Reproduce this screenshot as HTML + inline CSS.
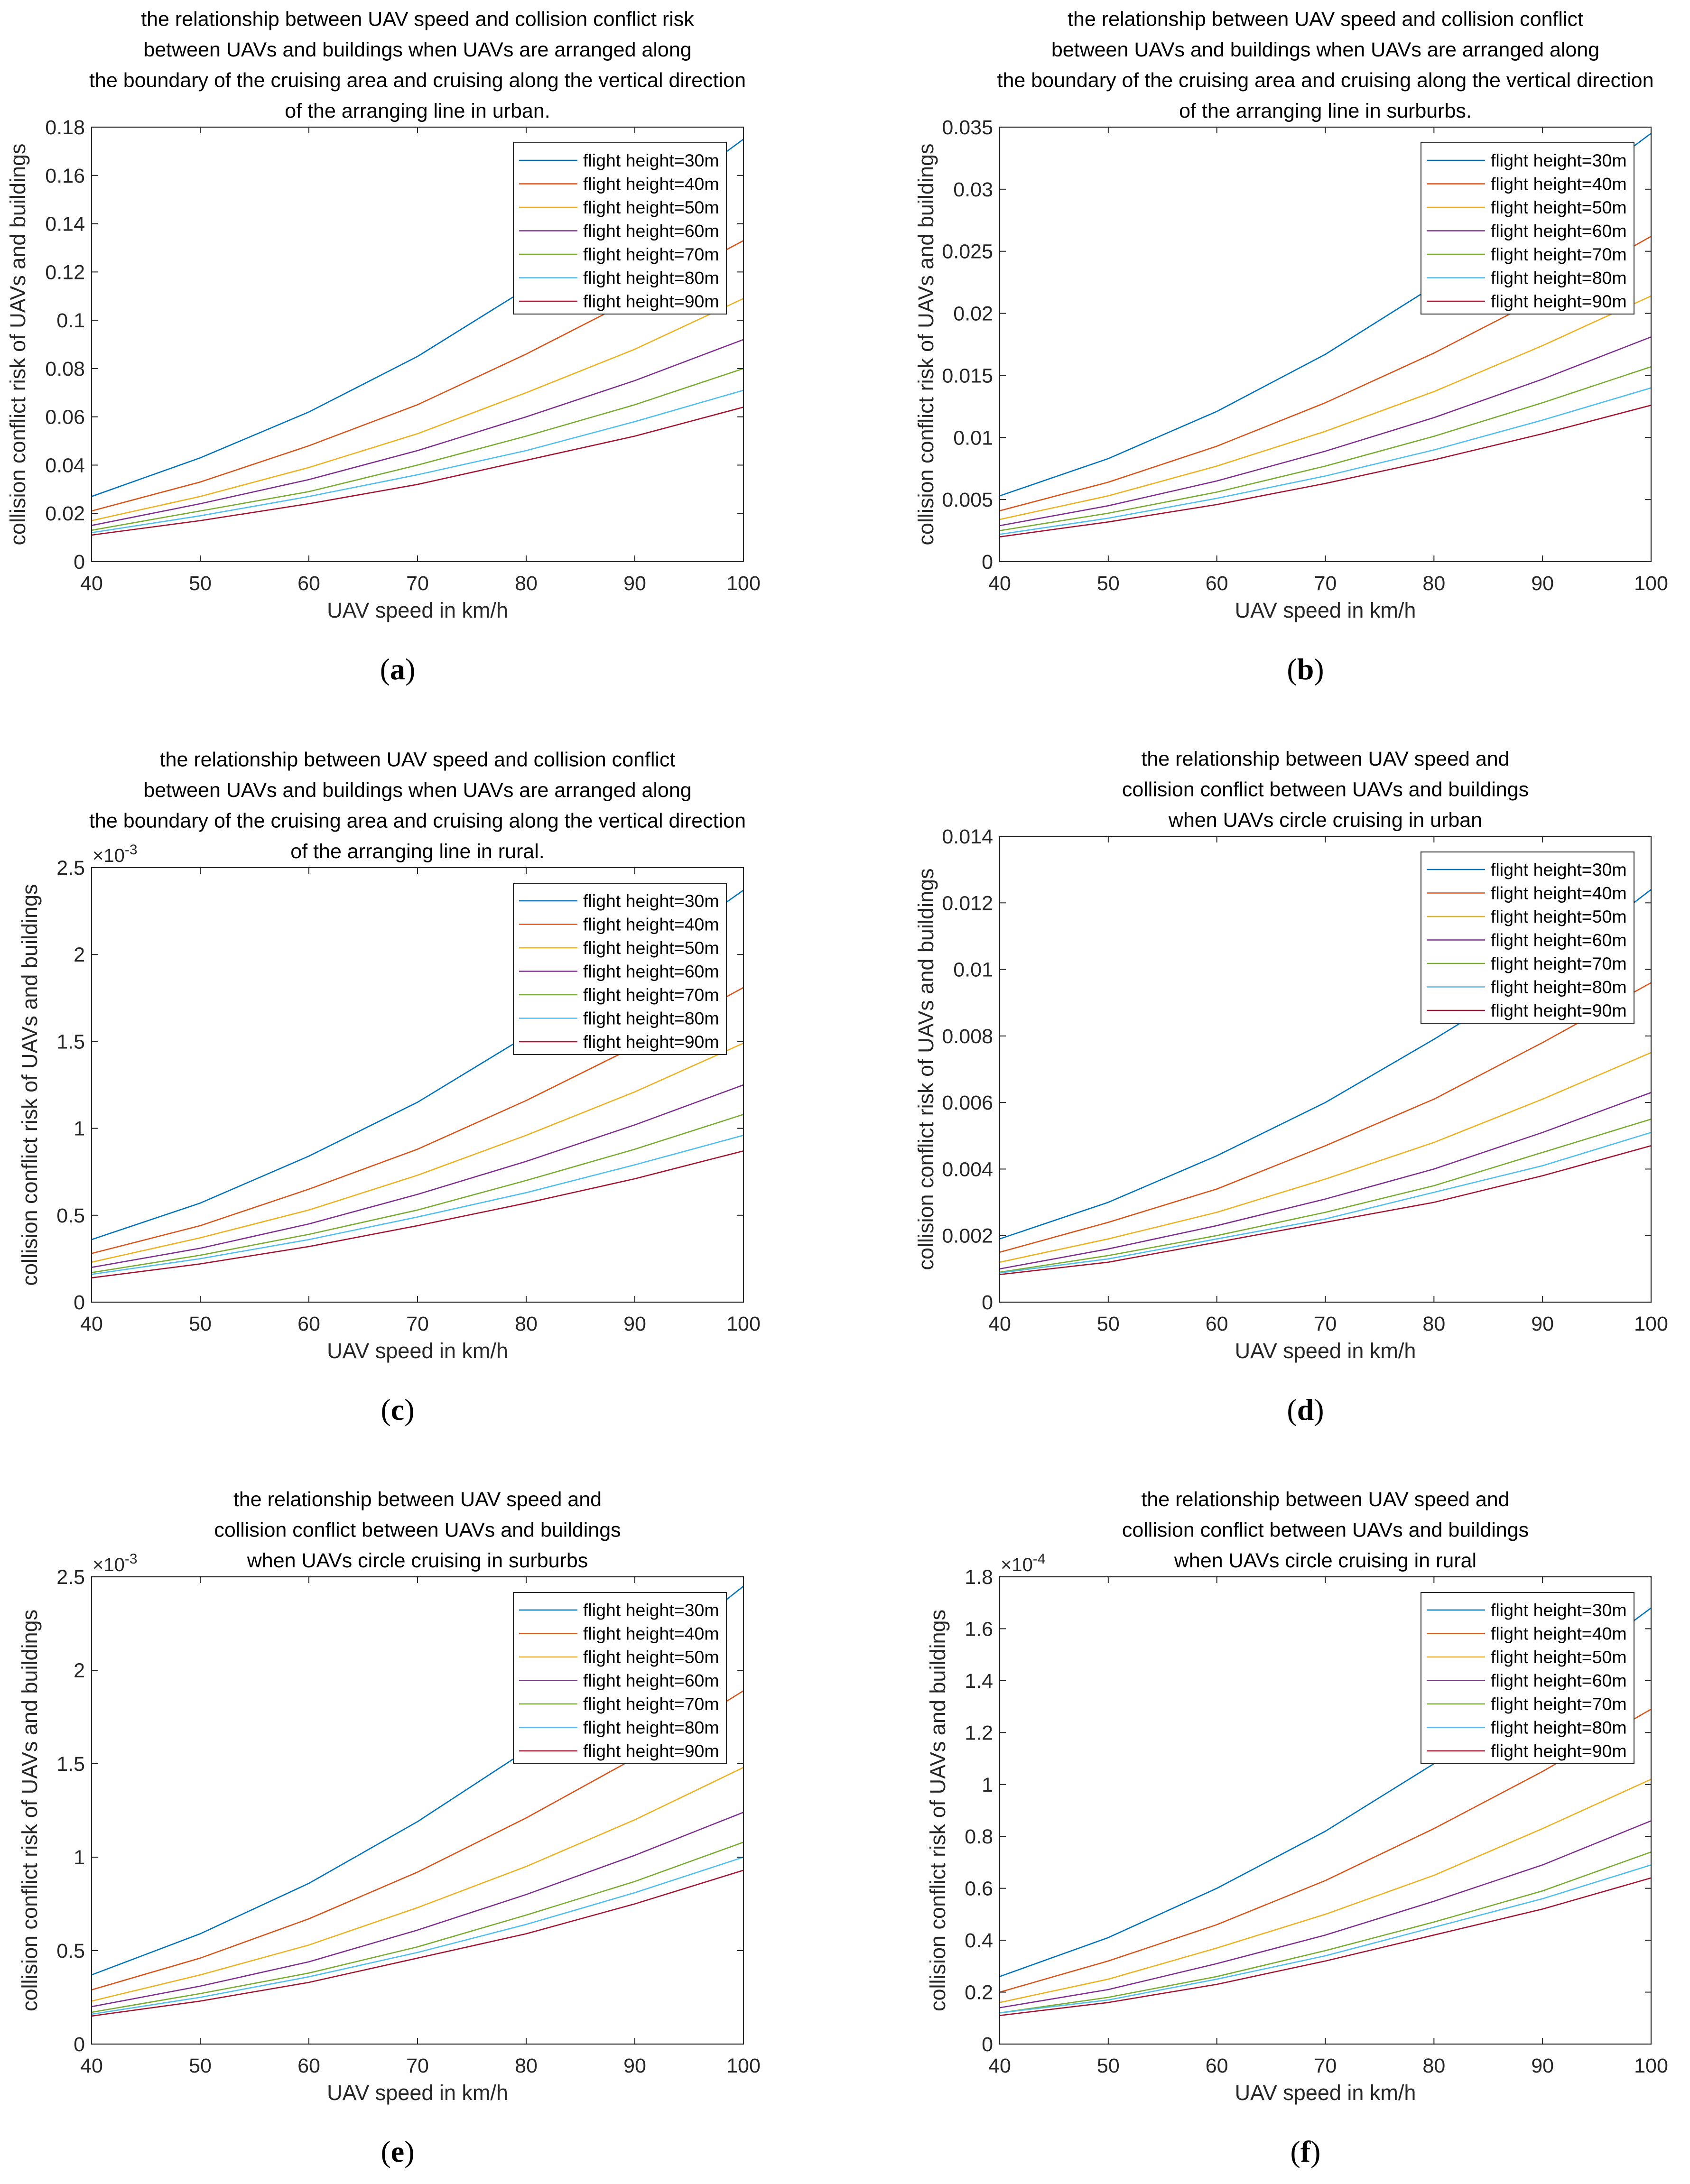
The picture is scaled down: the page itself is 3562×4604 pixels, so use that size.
<!DOCTYPE html>
<html><head><meta charset="utf-8">
<style>
html,body{margin:0;padding:0;background:#fff;}
svg{display:block;font-family:"Liberation Sans",Arial,sans-serif;}
</style></head>
<body>
<svg id="fig" width="3562" height="4604" viewBox="0 0 3562 4604" xmlns="http://www.w3.org/2000/svg"></svg>
<script>
// ---- data ----
const speeds = [40,50,60,70,80,90,100];
const heightLabels = ["flight height=30m","flight height=40m","flight height=50m","flight height=60m","flight height=70m","flight height=80m","flight height=90m"];
const seriesColors = ["#0072BD","#D95319","#EDB120","#7E2F8E","#77AC30","#4DBEEE","#A2142F"];

const riskA = [
 [0.027,0.043,0.062,0.085,0.113,0.142,0.175],
 [0.021,0.033,0.048,0.065,0.086,0.109,0.133],
 [0.017,0.027,0.039,0.053,0.070,0.088,0.109],
 [0.015,0.024,0.034,0.046,0.060,0.075,0.092],
 [0.013,0.021,0.029,0.040,0.052,0.065,0.080],
 [0.012,0.019,0.027,0.036,0.046,0.058,0.071],
 [0.011,0.017,0.024,0.032,0.042,0.052,0.064]];
const riskB = [
 [0.0053,0.0083,0.0121,0.0167,0.0222,0.0280,0.0345],
 [0.0041,0.0064,0.0093,0.0128,0.0168,0.0213,0.0262],
 [0.0034,0.0053,0.0077,0.0105,0.0137,0.0174,0.0214],
 [0.0029,0.0045,0.0065,0.0089,0.0116,0.0147,0.0181],
 [0.0025,0.0039,0.0056,0.0077,0.0101,0.0128,0.0157],
 [0.0022,0.0035,0.0051,0.0069,0.0090,0.0114,0.0140],
 [0.0020,0.0032,0.0046,0.0063,0.0082,0.0103,0.0126]];
const riskC = [
 [0.36,0.57,0.84,1.15,1.53,1.93,2.37],
 [0.28,0.44,0.65,0.88,1.16,1.47,1.81],
 [0.23,0.37,0.53,0.73,0.96,1.21,1.49],
 [0.20,0.31,0.45,0.62,0.81,1.02,1.25],
 [0.17,0.27,0.39,0.53,0.70,0.88,1.08],
 [0.16,0.25,0.36,0.49,0.63,0.79,0.96],
 [0.14,0.22,0.32,0.44,0.57,0.71,0.87]];
const riskD = [
 [0.0019,0.0030,0.0044,0.0060,0.0079,0.0099,0.0124],
 [0.0015,0.0024,0.0034,0.0047,0.0061,0.0078,0.0096],
 [0.0012,0.0019,0.0027,0.0037,0.0048,0.0061,0.0075],
 [0.0010,0.0016,0.0023,0.0031,0.0040,0.0051,0.0063],
 [0.0009,0.0014,0.0020,0.0027,0.0035,0.0045,0.0055],
 [0.00088,0.0013,0.0019,0.0025,0.0033,0.0041,0.0051],
 [0.00083,0.0012,0.0018,0.0024,0.0030,0.0038,0.0047]];
const riskE = [
 [0.37,0.59,0.86,1.19,1.57,1.99,2.45],
 [0.29,0.46,0.67,0.92,1.21,1.53,1.89],
 [0.23,0.37,0.53,0.73,0.95,1.20,1.48],
 [0.20,0.31,0.44,0.61,0.80,1.01,1.24],
 [0.17,0.27,0.38,0.52,0.69,0.87,1.08],
 [0.16,0.25,0.36,0.49,0.64,0.81,1.00],
 [0.15,0.23,0.33,0.46,0.59,0.75,0.93]];
const riskF = [
 [0.26,0.41,0.60,0.82,1.08,1.37,1.68],
 [0.20,0.32,0.46,0.63,0.83,1.05,1.29],
 [0.16,0.25,0.37,0.50,0.65,0.83,1.02],
 [0.14,0.21,0.31,0.42,0.55,0.69,0.86],
 [0.12,0.18,0.26,0.36,0.47,0.59,0.74],
 [0.12,0.17,0.25,0.34,0.45,0.56,0.69],
 [0.11,0.16,0.23,0.32,0.42,0.52,0.64]];

const xTicks = [40,50,60,70,80,90,100];
const yTicksA = ["0","0.02","0.04","0.06","0.08","0.1","0.12","0.14","0.16","0.18"];
const yTicksB = ["0","0.005","0.01","0.015","0.02","0.025","0.03","0.035"];
const yTicksC = ["0","0.5","1","1.5","2","2.5"];
const yTicksD = ["0","0.002","0.004","0.006","0.008","0.01","0.012","0.014"];
const yTicksE = ["0","0.5","1","1.5","2","2.5"];
const yTicksF = ["0","0.2","0.4","0.6","0.8","1","1.2","1.4","1.6","1.8"];

const titleA = ["the relationship between UAV speed and collision conflict risk","between UAVs and buildings when UAVs are arranged along","the boundary of the cruising area and cruising along the vertical direction","of the arranging line in urban."];
const titleB = ["the relationship between UAV speed and collision conflict","between UAVs and buildings when UAVs are arranged along","the boundary of the cruising area and cruising along the vertical direction","of the arranging line in surburbs."];
const titleC = ["the relationship between UAV speed and collision conflict","between UAVs and buildings when UAVs are arranged along","the boundary of the cruising area and cruising along the vertical direction","of the arranging line in rural."];
const titleD = ["the relationship between UAV speed and","collision conflict between UAVs and buildings","when UAVs circle cruising in urban"];
const titleE = ["the relationship between UAV speed and","collision conflict between UAVs and buildings","when UAVs circle cruising in surburbs"];
const titleF = ["the relationship between UAV speed and","collision conflict between UAVs and buildings","when UAVs circle cruising in rural"];

// ---- drawing ----
const NS = "http://www.w3.org/2000/svg";
const svg = document.getElementById('fig');
function mk(tag, attrs, parent){
  const e = document.createElementNS(NS, tag);
  for (const k in attrs) e.setAttribute(k, attrs[k]);
  (parent||svg).appendChild(e);
  return e;
}

function panel(id, L, R, T, B, data, yTicks, title, letter, expo){
  const g = mk('g', {});
  
  
  const yMax = parseFloat(yTicks[yTicks.length-1]);
  const xs = v => L + (v - xTicks[0]) / (xTicks[xTicks.length-1] - xTicks[0]) * (R - L);
  const ys = v => B - v / yMax * (B - T);
  const n = title.length;
  title.forEach((line, i) => {
    const t = mk('text', {x:(L+R)/2, y:T - 20 - (n-1-i)*64.5, 'text-anchor':'middle', 'font-size':43, fill:'#000'}, g);
    
    
    t.textContent = line;
  });
  data.forEach((s, k) => {
    const p = mk('polyline', {points: s.map((v,i)=>xs(speeds[i]).toFixed(1)+','+ys(v).toFixed(1)).join(' '), fill:'none', stroke:seriesColors[k], 'stroke-width':2.6, 'stroke-linejoin':'round'}, g);
    
    
  });
  const box = mk('rect', {x:L, y:T, width:R-L, height:B-T, fill:'none', stroke:'#262626', 'stroke-width':2.2}, g);
  
  
  xTicks.forEach(v => {
    const x = xs(v);
    mk('line', {x1:x, y1:B, x2:x, y2:B-13, stroke:'#262626', 'stroke-width':2}, g);
    mk('line', {x1:x, y1:T, x2:x, y2:T+13, stroke:'#262626', 'stroke-width':2}, g);
    const t = mk('text', {x:x, y:B+60, 'text-anchor':'middle', 'font-size':43, fill:'#262626'}, g);
    
    
    t.textContent = v;
  });
  yTicks.forEach(lbl => {
    const y = ys(parseFloat(lbl));
    mk('line', {x1:L, y1:y, x2:L+13, y2:y, stroke:'#262626', 'stroke-width':2}, g);
    mk('line', {x1:R, y1:y, x2:R-13, y2:y, stroke:'#262626', 'stroke-width':2}, g);
    const t = mk('text', {x:L-14, y:y+15, 'text-anchor':'end', 'font-size':43, fill:'#262626'}, g);
    
    
    t.textContent = lbl;
  });
  if (expo) {
    const t = mk('text', {x:L+2, y:T-12, 'font-size':40, fill:'#262626'}, g);
    
    
    t.innerHTML = '×10<tspan dy="-16" font-size="30">' + expo + '</tspan>';
  }
  const xl = mk('text', {x:(L+R)/2, y:B+118, 'text-anchor':'middle', 'font-size':45, fill:'#262626'}, g);
  
  
  xl.textContent = 'UAV speed in km/h';
  const yx = L - (expo ? 115 : 140);
  const yl = mk('text', {x:yx, y:(T+B)/2, 'text-anchor':'middle', 'font-size':45, fill:'#262626', transform:'rotate(-90 '+yx+' '+((T+B)/2)+')'}, g);
  
  
  yl.textContent = 'collision conflict risk of UAVs and buildings';
  const lw = 449, lh = 361, lx = R - 36 - lw, ly = T + 33;
  const lg = mk('g', {}, g);
  
  
  mk('rect', {x:lx, y:ly, width:lw, height:lh, fill:'#fff', stroke:'#262626', 'stroke-width':2}, lg);
  heightLabels.forEach((lbl, k) => {
    const cy = ly + 37 + k*49.5;
    const ln = mk('line', {x1:lx+12, y1:cy, x2:lx+135, y2:cy, stroke:seriesColors[k], 'stroke-width':2.6}, lg);
    
    
    const t = mk('text', {x:lx+147, y:cy+13, 'font-size':37.5, fill:'#000'}, lg);
    
    
    t.textContent = lbl;
  });
  const pl = mk('text', {x:(L+R)/2 - 42, y:B+248, 'text-anchor':'middle', 'font-size':64, fill:'#000', 'font-family':'"Liberation Serif",serif'}, g);
  
  
  pl.innerHTML = '(<tspan font-weight="bold">' + letter + '</tspan>)';
}

panel('a', 193, 1567, 268, 1184, riskA, yTicksA, titleA, 'a', null);
panel('b', 2107, 3480, 268, 1184, riskB, yTicksB, titleB, 'b', null);
panel('c', 193, 1567, 1829, 2745, riskC, yTicksC, titleC, 'c', '-3');
panel('d', 2107, 3480, 1763, 2745, riskD, yTicksD, titleD, 'd', null);
panel('e', 193, 1567, 3324, 4309, riskE, yTicksE, titleE, 'e', '-3');
panel('f', 2107, 3480, 3324, 4309, riskF, yTicksF, titleF, 'f', '-4');
</script>
</body></html>
